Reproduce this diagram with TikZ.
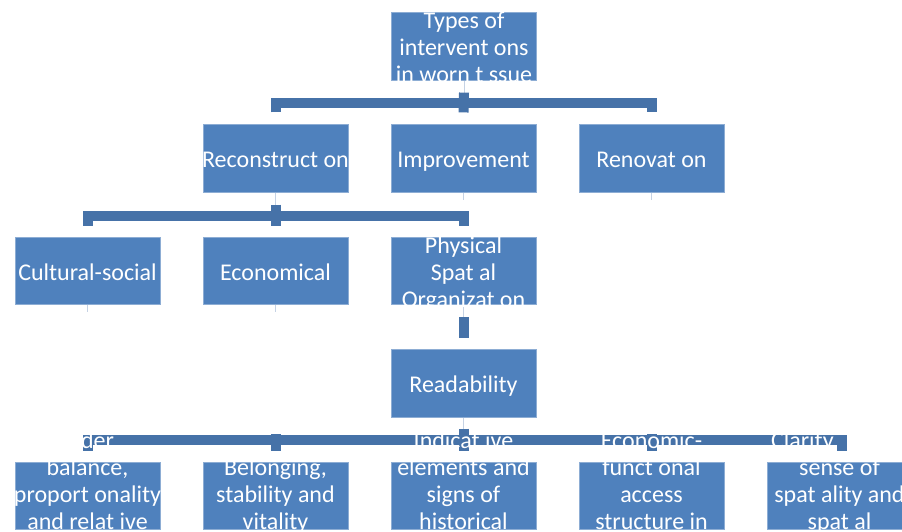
\documentclass[tikz,border=0pt]{standalone}
\usepackage{fontspec}
\setmainfont{Carlito}
\usetikzlibrary{calc}
\definecolor{boxblue}{HTML}{4F81BD}
\definecolor{barblue}{HTML}{4672A8}
\definecolor{faintline}{HTML}{C5D2E4}
\newcommand{\ls}{\rule[-8pt]{0pt}{27pt}}
\begin{document}
\begin{tikzpicture}[x=1pt,y=-1pt,
  box/.style={rectangle, fill=boxblue, draw=boxblue!65!white, line width=0.7pt,
              minimum width=145pt, minimum height=67.5pt, inner sep=0pt},
  lbl/.style={text=white, font=\fontsize{24}{27}\selectfont, align=center,
              inner sep=0pt, anchor=north},
  bar/.style={draw=barblue, line width=10pt, line join=miter},
  faint/.style={draw=faintline, line width=0.7pt}]
\useasboundingbox (0,0) rectangle (902,531);
\clip (0,0) rectangle (902,531);

% boxes
\node[box] (top) at (464,46.5) {};
\node[box] (rec) at (275.5,158.5) {};
\node[box] (imp) at (463.5,158.5) {};
\node[box] (ren) at (651.5,158.5) {};
\node[box] (cul) at (87.5,271) {};
\node[box] (eco) at (275.5,271) {};
\node[box] (phy) at (463.5,271) {};
\node[box] (read) at (463.5,383.5) {};
\node[box] (b1) at (87.5,496) {};
\node[box] (b2) at (275.5,496) {};
\node[box] (b3) at (463.5,496) {};
\node[box] (b4) at (651.5,496) {};
\node[box] (b5) at (839.5,496) {};

% faint original lines
\draw[faint] (top.south) -- ($(top.south)+(0,12)$);
\draw[faint] (rec.south) -- ($(rec.south)+(0,12)$);
\draw[faint] (imp.south) -- ($(imp.south)+(0,7)$);
\draw[faint] (ren.south) -- ($(ren.south)+(0,7)$);
\draw[faint] (cul.south) -- ($(cul.south)+(0,7)$);
\draw[faint] (eco.south) -- ($(eco.south)+(0,7)$);
\draw[faint] (phy.south) -- ($(phy.south)+(0,12)$);
\draw[faint] (read.south) -- ($(read.south)+(0,11)$);

% connector bars: level 1
\draw[bar] ($(rec.north)+(0,-12)$) |- ($(top.south)+(0,22.25)$) -| ($(ren.north)+(0,-12)$);
\draw[bar] ($(top.south)+(0,12)$) -- ($(imp.north)+(0,-12)$);
% level 2
\draw[bar] ($(cul.north)+(0,-11)$) |- ($(rec.south)+(0,23)$) -| ($(phy.north)+(0,-11)$);
\draw[bar] ($(rec.south)+(0,12)$) -- ($(eco.north)+(0,-11)$);
% physical -> readability
\draw[bar] ($(phy.south)+(0,12)$) -- ($(read.north)+(0,-11)$);
% bottom level
\coordinate (b5s) at ($(b5.north)+(2,-11)$);
\draw[bar] ($(b1.north)+(0,-11)$) |- ($(read.south)+(0,22.25)$) -| (b5s);
\draw[bar] ($(read.south)+(0,11)$) -- ($(b3.north)+(0,-11)$);
\draw[bar] ($(b2.north)+(0,-11)$) -- ($(b2.north)+(0,-28)$);
\draw[bar] ($(b4.north)+(0,-11)$) -- ($(b4.north)+(0,-28)$);

% texts
\node[lbl] (topT) at ($(top.center)+(0,-37)$) {\ls Types of\\\ls intervent ons\\\ls in worn t ssue};
\node[lbl] (recT) at ($(rec.center)+(0,-10)$) {\ls Reconstruct on};
\node[lbl] (impT) at ($(imp.center)+(0,-10)$) {\ls Improvement};
\node[lbl] (renT) at ($(ren.center)+(0,-10)$) {\ls Renovat on};
\node[lbl] (culT) at ($(cul.center)+(0,-10)$) {\ls Cultural-social};
\node[lbl] (ecoT) at ($(eco.center)+(0,-10)$) {\ls Economical};
\node[lbl] (phyT) at ($(phy.center)+(0,-37)$) {\ls Physical\\\ls Spat al\\\ls Organizat on};
\node[lbl] (readT) at ($(read.center)+(0,-10)$) {\ls Readability};
\node[lbl] (b1T) at ($(b1.center)+(0,-67)$) {\ls Order,\\\ls balance,\\\ls proport onality\\\ls and relat ive};
\node[lbl] (b2T) at ($(b2.center)+(0,-40)$) {\ls Belonging,\\\ls stability and\\\ls vitality};
\node[lbl] (b3T) at ($(b3.center)+(0,-67)$) {\ls Indicat ive\\\ls elements and\\\ls signs of\\\ls historical};
\node[lbl] (b4T) at ($(b4.center)+(0,-67)$) {\ls Economic-\\\ls funct onal\\\ls access\\\ls structure in};
\node[lbl] (b5T) at ($(b5.center)+(0,-67)$) {\ls Clarity,\hspace*{70pt}\\\ls sense of\\\ls spat ality and\\\ls spat al};
\end{tikzpicture}
\end{document}
